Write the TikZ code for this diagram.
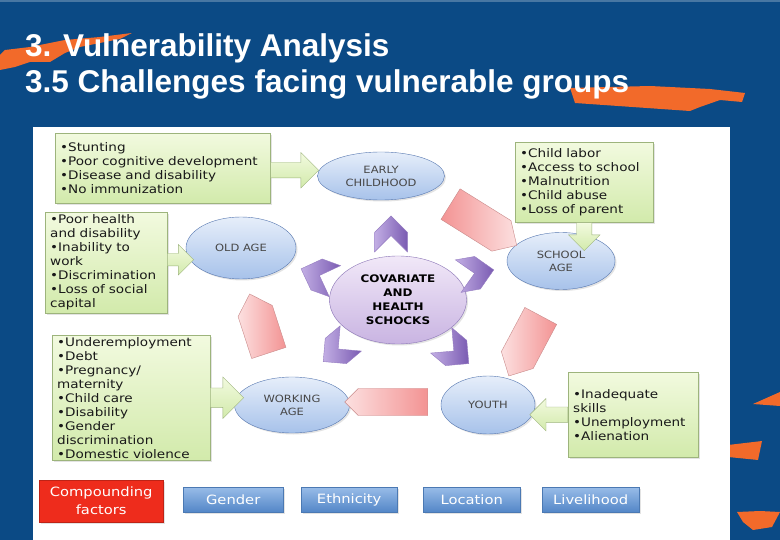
\documentclass[tikz,border=0pt]{standalone}
\usepackage{fontspec}
\setmainfont{DejaVu Sans}
\newfontfamily\diafont[FakeStretch=1.15]{DejaVu Sans}
\newfontfamily\titlefont{Liberation Sans}
\usetikzlibrary{shapes.geometric,shapes.arrows,shapes.symbols,calc,shadows}

\definecolor{slideblue}{HTML}{0B4A85}
\definecolor{swoosh}{HTML}{F26A2A}
\definecolor{issuetop}{HTML}{F2FADF}
\definecolor{issuebot}{HTML}{D2EAAB}
\definecolor{issueedge}{HTML}{9DB47C}
\definecolor{stagetop}{HTML}{E6EEFA}
\definecolor{stagebot}{HTML}{A7C2EA}
\definecolor{stageedge}{HTML}{5677B0}
\definecolor{coretop}{HTML}{F1E8F8}
\definecolor{corebot}{HTML}{C9B4E2}
\definecolor{coreedge}{HTML}{8A74B6}
\definecolor{shockdark}{HTML}{7A5BB2}
\definecolor{shocklight}{HTML}{C2AEE4}
\definecolor{turndark}{HTML}{F39393}
\definecolor{turnlight}{HTML}{FCE0E0}
\definecolor{turnedge}{HTML}{C98A8A}
\definecolor{compred}{HTML}{EE2C1C}
\definecolor{factortop}{HTML}{98BCE8}
\definecolor{factorbot}{HTML}{5386C7}

\tikzset{
  heading/.style={text=white, font=\titlefont\bfseries\fontsize{31.5}{36}\selectfont, anchor=base west, inner sep=0pt},
  softshadow/.style={drop shadow={opacity=0.22, shadow xshift=1.5pt, shadow yshift=-1.5pt}},
  issue/.style={draw=issueedge, top color=issuetop, bottom color=issuebot, anchor=north west,
    align=left, inner xsep=5pt, inner ysep=0pt, text=black!90, softshadow,
    font=\diafont\fontsize{11.8}{14}\selectfont},
  stage/.style={ellipse, draw=stageedge, top color=stagetop, bottom color=stagebot, softshadow,
    inner sep=0pt, align=center, text=black!72, font=\diafont\fontsize{10}{13}\selectfont},
  core/.style={ellipse, draw=coreedge, top color=coretop, bottom color=corebot, softshadow,
    inner sep=0pt, align=center, font=\diafont\bfseries\fontsize{10.4}{14}\selectfont},
  feed/.style={single arrow, draw=issueedge, top color=issuetop, bottom color=issuebot,
    inner xsep=0pt, single arrow head indent=0pt, anchor=tail},
  shock/.style={signal, signal to=east, signal from=west, draw=shockdark!80,
    left color=shocklight, right color=shockdark, inner sep=0pt,
    minimum width=36, minimum height=33},
  turn/.style={signal, signal to=east, draw=turnedge, left color=turnlight, right color=turndark,
    inner sep=0pt, signal pointer angle=90},
  factor/.style={draw=factorbot!90!black, top color=factortop, bottom color=factorbot,
    text=white, anchor=north west, inner sep=0pt, minimum height=25, softshadow,
    font=\diafont\fontsize{12.8}{16}\selectfont},
}

\begin{document}
\begin{tikzpicture}[x=1pt,y=-1pt]
\useasboundingbox (0,0) rectangle (780,540);

% slide background
\fill[slideblue] (0,0) rectangle (780,540);
\fill[slideblue!75!white] (0,0) rectangle (780,2);
\fill[swoosh] (0,55) -- (5,50) -- (30,47) -- (65,40) -- (100,37) -- (132,33) -- (120,39)
  -- (80,47) -- (65,53) -- (50,62) -- (30,62) -- (15,67) -- (0,70) -- cycle;
\fill[swoosh] (570,88) -- (650,86) -- (710,89) -- (745,93) -- (742,102) -- (720,100)
  -- (700,107) -- (690,111) -- (575,103) -- cycle;
\fill[swoosh] (753,404) -- (780,392) -- (780,406) -- cycle;
\fill[swoosh] (728,445) -- (762,441) -- (758,460) -- (728,457) -- cycle;
\fill[swoosh] (737,512) -- (760,511) -- (780,512) -- (772,527) -- (753,530) -- (743,522) -- cycle;
\fill[white] (33,127) rectangle (730,540);

\node[heading] (t1) at (25,57) {3. Vulnerability Analysis};
\node[heading] (t2) at (25,93) {3.5 Challenges facing vulnerable groups};

% life-cycle stages
\node[stage, minimum width=127, minimum height=48] (early) at (381,176) {EARLY\\CHILDHOOD};
\node[stage, minimum width=110, minimum height=62] (old) at (241,248) {OLD AGE};
\node[stage, minimum width=108, minimum height=57] (school) at (561,261) {SCHOOL\\AGE};
\node[stage, minimum width=115, minimum height=56] (working) at (292,405) {WORKING\\AGE};
\node[stage, minimum width=94, minimum height=58] (youth) at (488,405) {YOUTH};
\node[core, minimum width=137, minimum height=88] (shocks) at (398,300) {COVARIATE\\AND\\HEALTH\\SCHOCKS};

% shocks hitting every stage
\node[shock, rotate=90] (s1) at (391,234) {};
\node[shock, rotate=160] (s2) at (318,275) {};
\node[shock, rotate=10] (s3) at (476,273) {};
\node[shock, rotate=220] (s4) at (337,350) {};
\node[shock, rotate=-40] (s5) at (455,352) {};

% moving round the cycle
\node[turn, rotate=-32, minimum width=78, minimum height=36, left color=turndark, right color=turnlight] (r1) at (476,220) {};
\node[turn, rotate=242, minimum width=68, minimum height=36] (r2) at (529,338) {};
\node[turn, rotate=180, minimum width=83, minimum height=27] (r3) at (393,402) {};
\node[turn, rotate=108, minimum width=62, minimum height=36] (r4) at (262,332) {};

% what each stage faces
\node[issue, minimum width=215, minimum height=70, text width=205] (b1) at (55,133)
  {•Stunting\\•Poor cognitive development\\•Disease and disability\\•No immunization};
\node[issue, minimum width=122, minimum height=101, text width=112] (b2) at (45,212)
  {•Poor health\\and disability\\•Inability to\\work\\•Discrimination\\•Loss of social\\capital};
\node[issue, minimum width=138, minimum height=80, text width=128] (b3) at (515,142)
  {•Child labor\\•Access to school\\•Malnutrition\\•Child abuse\\•Loss of parent};
\node[issue, minimum width=158, minimum height=125, text width=148] (b4) at (52,335)
  {•Underemployment\\•Debt\\•Pregnancy/\\maternity\\•Child care\\•Disability\\•Gender\\discrimination\\•Domestic violence};
\node[issue, minimum width=130, minimum height=85, text width=120] (b5) at (568,372)
  {•Inadequate\\skills\\•Unemployment\\•Alienation};

\node[feed, minimum height=48, inner ysep=7.5, single arrow head extend=10] (f1) at ($(b1.east)+(0,2)$) {};
\node[feed, minimum height=26, inner ysep=6, single arrow head extend=9] (f2) at ($(b2.east)+(0,-3)$) {};
\node[feed, rotate=-90, minimum height=28, inner ysep=7.5, single arrow head extend=8] (f3) at (b3.south) {};
\node[feed, minimum height=33, inner ysep=9.5, single arrow head extend=11] (f4) at (b4.east) {};
\node[feed, rotate=180, minimum height=38, inner ysep=7.5, single arrow head extend=8.5] (f5) at (b5.west) {};

% compounding factors
\node[draw=compred!80!black, fill=compred, text=white, anchor=north west, align=center,
  minimum width=124, minimum height=42, inner sep=0pt, softshadow,
  font=\diafont\fontsize{12.8}{18}\selectfont] (comp) at (39,480) {Compounding\\factors};
\node[factor, minimum width=100] (gender) at (183,487) {Gender};
\node[factor, minimum width=96] (ethnic) at (301,487) {Ethnicity};
\node[factor, minimum width=97] (place) at (423,487) {Location};
\node[factor, minimum width=97] (living) at (542,487) {Livelihood};

\end{tikzpicture}
\end{document}
